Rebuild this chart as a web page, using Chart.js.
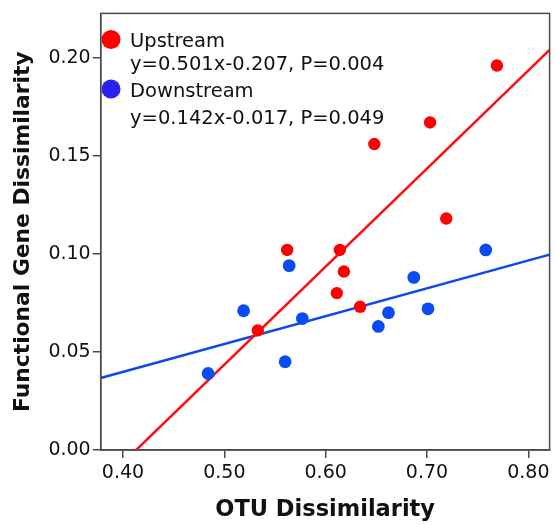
<!DOCTYPE html>
<html>
<head>
<meta charset="utf-8">
<script src="https://cdn.jsdelivr.net/npm/chart.js@4.4.1/dist/chart.umd.min.js"></script>
<style>
  html, body { margin: 0; padding: 0; background: #fff; }
  #wrap { width: 556px; height: 525px; }
</style>
</head>
<body>
<div id="wrap"><canvas id="myChart" width="556" height="525"></canvas></div>
<script>
// values
const upX = [0.533, 0.562, 0.614, 0.618, 0.611, 0.634, 0.719, 0.648, 0.703, 0.769];
const upY = [0.061, 0.102, 0.102, 0.091, 0.080, 0.073, 0.118, 0.156, 0.167, 0.196];
const downX = [0.484, 0.519, 0.560, 0.564, 0.577, 0.652, 0.662, 0.687, 0.701, 0.758];
const downY = [0.039, 0.071, 0.045, 0.094, 0.067, 0.063, 0.070, 0.088, 0.072, 0.102];

// fit line ends, as seen in the picture
const upLineX = [0.413, 0.821];
const upLineY = [0.000, 0.204];
const downLineX = [0.378, 0.821];
const downLineY = [0.0367, 0.0996];

const xTicks = [0.40, 0.50, 0.60, 0.70, 0.80];
const xTickLabels = ['0.40', '0.50', '0.60', '0.70', '0.80'];
const yTicks = [0.00, 0.05, 0.10, 0.15, 0.20];
const yTickLabels = ['0.00', '0.05', '0.10', '0.15', '0.20'];

const seriesNames = ['Upstream', 'Downstream'];
const equations = ['y=0.501x-0.207, P=0.004', 'y=0.142x-0.017, P=0.049'];

const toPoints = (xs, ys) => xs.map((x, i) => ({x: x, y: ys[i]}));

const FONT = 'DejaVu Sans';
const AXIS = '#4a4a4a';

// box round the plot area
const frame = {
    id: 'frame',
    beforeDatasetsDraw(chart) {
        const a = chart.chartArea;
        const c = chart.ctx;
        c.save();
        c.strokeStyle = AXIS;
        c.lineWidth = 1.5;
        c.strokeRect(a.left, a.top, a.right - a.left, a.bottom - a.top);
        c.restore();
    }
};

// legend with the fit equations under each name
const eqLegend = {
    id: 'eqLegend',
    afterDraw(chart) {
        const c = chart.ctx;
        const dots = ['#ff0000', '#2b22f2'];
        const rows = [39.5, 89];
        c.save();
        for (let i = 0; i < 2; i++) {
            c.beginPath();
            c.arc(111, rows[i], 9.5, 0, Math.PI * 2);
            c.fillStyle = dots[i];
            c.fill();
            c.fillStyle = '#111';
            c.font = '19.5px "' + FONT + '"';
            c.textBaseline = 'alphabetic';
            c.textAlign = 'left';
            c.fillText(seriesNames[i], 130, rows[i] + 7.5);
            c.fillText(equations[i], 130, rows[i] + 30 + i * 5);
        }
        c.restore();
    }
};

const ctx = document.getElementById('myChart');
const myChart = new Chart(ctx, {
    type: 'scatter',
    data: {
        datasets: [
            {
                label: 'Upstream',
                data: toPoints(upX, upY),
                backgroundColor: '#ff0000',
                borderWidth: 0,
                pointRadius: 6.2,
                order: 0
            },
            {
                label: 'Downstream',
                data: toPoints(downX, downY),
                backgroundColor: '#0a4cf2',
                borderWidth: 0,
                pointRadius: 6.4,
                order: 1
            },
            {
                label: 'Upstream fit',
                data: toPoints(upLineX, upLineY),
                showLine: true,
                borderColor: '#ff1010',
                borderWidth: 2.5,
                pointRadius: 0,
                order: 2
            },
            {
                label: 'Downstream fit',
                data: toPoints(downLineX, downLineY),
                showLine: true,
                borderColor: '#1046ee',
                borderWidth: 2.5,
                pointRadius: 0,
                order: 3
            }
        ]
    },
    options: {
        responsive: false,
        animation: false,
        layout: { padding: { top: 12, right: 2.5, left: 0, bottom: 0 } },
        plugins: { legend: { display: false }, tooltip: { enabled: false } },
        scales: {
            x: {
                type: 'linear',
                min: 0.378,
                max: 0.821,
                afterFit: s => { s.height = 75; },
                afterBuildTicks: s => { s.ticks = xTicks.map(v => ({value: v})); },
                border: { color: AXIS, width: 1.5 },
                grid: { drawOnChartArea: false, drawTicks: true, tickLength: 8, color: AXIS, lineWidth: 1.5 },
                ticks: {
                    maxRotation: 0,
                    padding: 4,
                    color: '#111',
                    font: { family: FONT, size: 19 },
                    callback: (v, i) => xTickLabels[i]
                },
                title: {
                    display: true,
                    text: 'OTU Dissimilarity',
                    color: '#111',
                    font: { family: FONT, size: 22.5, weight: 'bold' },
                    padding: { top: 0, bottom: 1 }
                }
            },
            y: {
                type: 'linear',
                min: 0,
                max: 0.2226,
                afterFit: s => { s.width = 100.7; },
                afterBuildTicks: s => { s.ticks = yTicks.map(v => ({value: v})); },
                border: { color: AXIS, width: 1.5 },
                grid: { drawOnChartArea: false, drawTicks: true, tickLength: 8, color: AXIS, lineWidth: 1.5 },
                ticks: {
                    padding: 2,
                    color: '#111',
                    font: { family: FONT, size: 19 },
                    callback: (v, i) => yTickLabels[i]
                },
                title: {
                    display: true,
                    text: 'Functional Gene Dissimilarity',
                    color: '#111',
                    font: { family: FONT, size: 21.8, weight: 'bold' },
                    padding: { top: 10, bottom: 0 }
                }
            }
        }
    },
    plugins: [frame, eqLegend]
});
</script>
</body>
</html>
